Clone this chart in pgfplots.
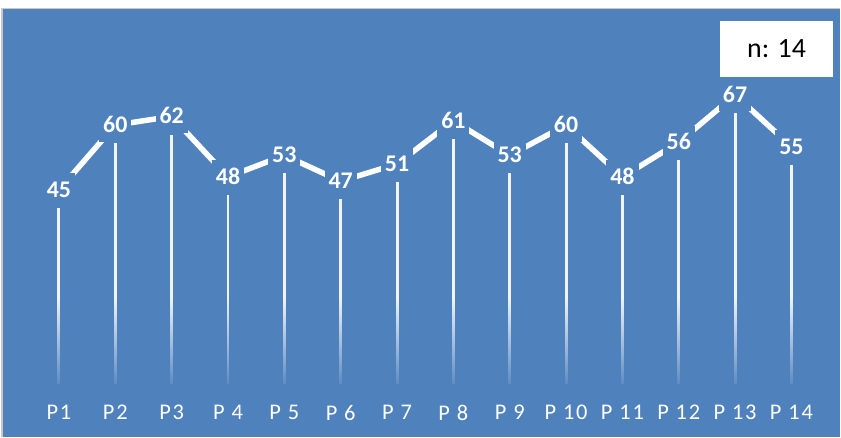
\documentclass[border=0pt]{standalone}
\usepackage{pgfplots}
\pgfplotsset{compat=1.18}
\usepackage{pgfplotstable}
\usetikzlibrary{fadings}
\usepackage{fontspec}
\setmainfont{Carlito}
\newfontfamily\tickfont{Carlito}[LetterSpace=8]

\definecolor{chartblue}{RGB}{79,129,189}
\definecolor{framegray}{RGB}{200,200,200}

% transparent at the top, opaque at the bottom: used to let the stems dissolve
\tikzfading[name=stemfade, top color=transparent!100, bottom color=transparent!0]

\pgfplotstableread{
idx v
1  45
2  60
3  62
4  48
5  53
6  47
7  51
8  61
9  53
10 60
11 48
12 56
13 67
14 55
}\scores

\begin{document}
\begin{tikzpicture}
\begin{axis}[
  scale only axis,
  width=841bp, height=437bp,
  xmin=-0.0465, xmax=14.869,
  ymin=-12.18, ymax=88.98,
  axis background/.style={fill=chartblue},
  axis line style={draw=none},
  tick style={draw=none},
  ytick=\empty,
  xtick={1,...,14},
  xticklabels={P1,P2,P3,P 4,P 5,P 6,P 7,P 8,P 9,P 10,P 11,P 12,P 13,P 14},
  xticklabel style={anchor=center, yshift=24bp, text=white,
    font=\tickfont\fontsize{22.5}{24}\selectfont},
  clip=false,
  /pgf/number format/assume math mode=true,
]
% white margin and frame of the chart area
\fill[white] (rel axis cs:0,0.9794) rectangle (rel axis cs:1,1);
\fill[white] (rel axis cs:0,0) rectangle (rel axis cs:0.0036,1);
\draw[framegray, line width=1.2bp]
  (rel axis cs:0.0024,0) -- (rel axis cs:0.0024,0.9805) -- (rel axis cs:1,0.9805);

% stems up to each value
\addplot[ycomb, white!92!chartblue, line width=3bp, mark=none]
  table[x=idx, y expr=\thisrow{v}-4.2] {\scores};
\fill[chartblue, path fading=stemfade]
  (rel axis cs:0.004,0.1) rectangle (rel axis cs:1,0.32);

% connecting line with value labels
\addplot[white, line width=5.5bp, mark=none,
  nodes near coords,
  every node near coord/.append style={anchor=center, fill=chartblue,
    text=white, font=\bfseries\fontsize{24}{26}\selectfont,
    text height=15bp, text depth=0bp, inner xsep=4bp, inner ysep=9bp},
] table[x=idx, y=v] {\scores};

% sample size box
\node[fill=white, minimum width=114bp, minimum height=56bp,
  font=\fontsize{28}{32}\selectfont, text=black]
  at (rel axis cs:0.924,0.888) {n: 14};
\end{axis}
\end{tikzpicture}
\end{document}
